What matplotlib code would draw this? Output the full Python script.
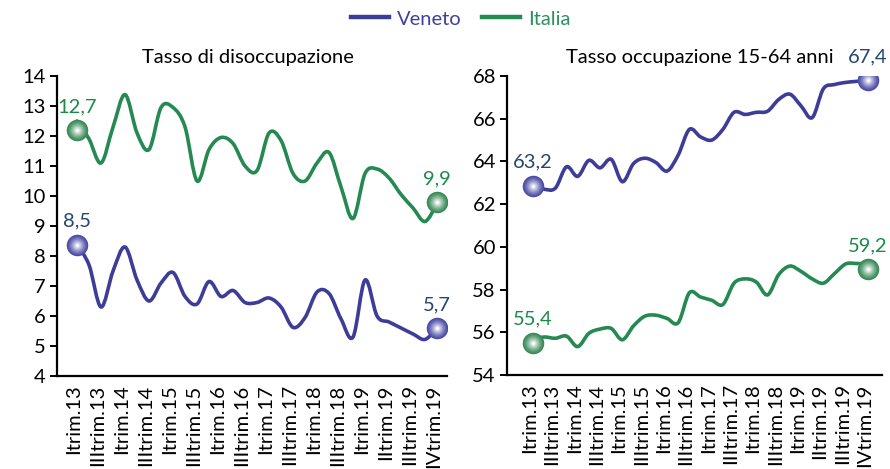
import matplotlib

matplotlib.use("Agg")
import matplotlib.pyplot as plt
from matplotlib.path import Path
from matplotlib.patches import PathPatch
from matplotlib.colors import to_rgb

plt.rcParams["font.family"] = ["Lato", "DejaVu Sans"]

# category labels (every other point is labelled)
tick_labels = ["Itrim.13", "IIItrim.13", "Itrim.14", "IIItrim.14", "Itrim.15",
               "IIItrim.15", "Itrim.16", "IIItrim.16", "Itrim.17", "IIItrim.17",
               "Itrim.18", "IIItrim.18", "Itrim.19", "IItrim.19", "IIItrim.19",
               "IVtrim.19"]

# Tasso di disoccupazione
disocc_veneto = [8.37, 7.7, 6.3, 7.5, 8.3, 7.2, 6.5, 7.1, 7.45, 6.65, 6.4,
                 7.15, 6.65, 6.85, 6.45, 6.45, 6.6, 6.3, 5.62, 5.95, 6.8,
                 6.75, 5.9, 5.3, 7.2, 6.0, 5.8, 5.6, 5.4, 5.22, 5.6]
disocc_italia = [12.5, 11.9, 11.1, 12.3, 13.38, 12.1, 11.55, 12.95, 12.95,
                 12.3, 10.5, 11.55, 11.95, 11.75, 11.0, 10.85, 12.1, 11.85,
                 10.75, 10.5, 11.1, 11.45, 10.3, 9.25, 10.75, 10.9, 10.6,
                 10.05, 9.6, 9.15, 9.75]

# Tasso occupazione 15-64 anni
occ_veneto = [62.85, 62.7, 62.75, 63.75, 63.3, 64.05, 63.7, 64.1, 63.05, 63.9,
              64.15, 63.95, 63.55, 64.3, 65.5, 65.15, 65.0, 65.5, 66.3, 66.2,
              66.3, 66.35, 66.9, 67.15, 66.6, 66.05, 67.4, 67.6, 67.7, 67.75,
              67.8]
occ_italia = [55.7, 55.78, 55.72, 55.82, 55.33, 55.95, 56.15, 56.18, 55.65,
              56.3, 56.75, 56.8, 56.65, 56.45, 57.85, 57.65, 57.5, 57.3, 58.3,
              58.5, 58.35, 57.75, 58.7, 59.1, 58.85, 58.5, 58.3, 58.75, 59.2,
              59.22, 59.2]

# highlighted first / last values (marker position, label text)
disocc_veneto_ends = [8.37, 5.6]
disocc_veneto_text = ["8,5", "5,7"]
disocc_italia_ends = [12.2, 9.8]
disocc_italia_text = ["12,7", "9,9"]
occ_veneto_ends = [62.86, 67.8]
occ_veneto_text = ["63,2", "67,4"]
occ_italia_ends = [55.5, 58.95]
occ_italia_text = ["55,4", "59,2"]

BLUE = "#3d3d98"
GREEN = "#258a52"
BLUE_TXT = "#24466f"
GREEN_TXT = "#1d8a4c"
FS = 14.5


def smooth_line(ax, ys, color, lw=2.6):
    """Excel-like smoothed line: cubic bezier through every point."""
    xs = list(range(len(ys)))
    pts = list(zip(xs, ys))
    verts = [pts[0]]
    codes = [Path.MOVETO]
    n = len(pts)
    for i in range(n - 1):
        p0 = pts[max(i - 1, 0)]
        p1 = pts[i]
        p2 = pts[i + 1]
        p3 = pts[min(i + 2, n - 1)]
        c1 = (p1[0] + (p2[0] - p0[0]) / 6, p1[1] + (p2[1] - p0[1]) / 6)
        c2 = (p2[0] - (p3[0] - p1[0]) / 6, p2[1] - (p3[1] - p1[1]) / 6)
        verts += [c1, c2, p2]
        codes += [Path.CURVE4] * 3
    ax.add_patch(PathPatch(Path(verts, codes), fill=False, edgecolor=color,
                           lw=lw, capstyle="round", joinstyle="round",
                           zorder=3))


def sphere(ax, x, y, color):
    base = to_rgb(color)
    n = 9
    for k in range(n):
        t = k / (n - 1)
        c = tuple(b + (1 - b) * t ** 1.3 for b in base)
        size = (15.5 * (1 - 0.88 * t)) ** 2
        ax.scatter([x], [y], s=size, color=c, zorder=5 + k * 0.01,
                   linewidths=0)


def draw_panel(ax, veneto, italia, ven_ends, ven_txt, ita_ends, ita_txt,
               ylim, yticks, xlim):
    smooth_line(ax, italia, GREEN)
    smooth_line(ax, veneto, BLUE)
    last = len(veneto) - 1
    for xi, (v, t) in zip([0, last], zip(ven_ends, ven_txt)):
        sphere(ax, xi, v, "#4c4ca8")
        ax.annotate(t, (xi, v), xytext=(0, 17), textcoords="offset points",
                    ha="center", va="center", fontsize=FS, color=BLUE_TXT)
    for xi, (v, t) in zip([0, last], zip(ita_ends, ita_txt)):
        sphere(ax, xi, v, "#3a8a58")
        ax.annotate(t, (xi, v), xytext=(0, 17), textcoords="offset points",
                    ha="center", va="center", fontsize=FS, color=GREEN_TXT)

    ax.set_ylim(*ylim)
    ax.set_yticks(yticks)
    ax.set_xlim(*xlim)
    ax.set_xticks([x - 0.3 for x in range(0, len(veneto), 2)])
    ax.set_xticklabels(tick_labels, rotation=90, fontsize=14.5)
    ax.tick_params(axis="x", length=0, pad=6)
    ax.tick_params(axis="y", length=5, width=1.4, labelsize=FS, pad=3)
    for s in ("top", "right"):
        ax.spines[s].set_visible(False)
    for s in ("left", "bottom"):
        ax.spines[s].set_linewidth(1.6)


fig = plt.figure(figsize=(8.9, 4.69), dpi=100)
ax1 = fig.add_axes([57 / 890, 93 / 469, 390 / 890, 300 / 469])
ax2 = fig.add_axes([507 / 890, 94 / 469, 375 / 890, 299 / 469])

draw_panel(ax1, disocc_veneto, disocc_italia,
           disocc_veneto_ends, disocc_veneto_text,
           disocc_italia_ends, disocc_italia_text,
           (4, 14), range(4, 15), (-1.67, 30.83))
draw_panel(ax2, occ_veneto, occ_italia,
           occ_veneto_ends, occ_veneto_text,
           occ_italia_ends, occ_italia_text,
           (54, 68), range(54, 69, 2), (-2.33, 31.25))

fig.text(248 / 890, 1 - 58 / 469, "Tasso di disoccupazione",
         ha="center", va="center", fontsize=FS)
fig.text(700 / 890, 1 - 58 / 469, "Tasso occupazione 15-64 anni",
         ha="center", va="center", fontsize=FS)

handles = [plt.Line2D([], [], color=BLUE, lw=3.2),
           plt.Line2D([], [], color=GREEN, lw=3.2)]
leg = fig.legend(handles, ["Veneto", "Italia"], loc="center",
                 bbox_to_anchor=(461 / 890, 1 - 19 / 469), ncol=2,
                 frameon=False, fontsize=FS, handlelength=1.9,
                 handletextpad=0.4, columnspacing=1.0)
leg.get_texts()[0].set_color("#40409e")
leg.get_texts()[1].set_color("#2e9060")

fig.savefig("out.png", dpi=100)
